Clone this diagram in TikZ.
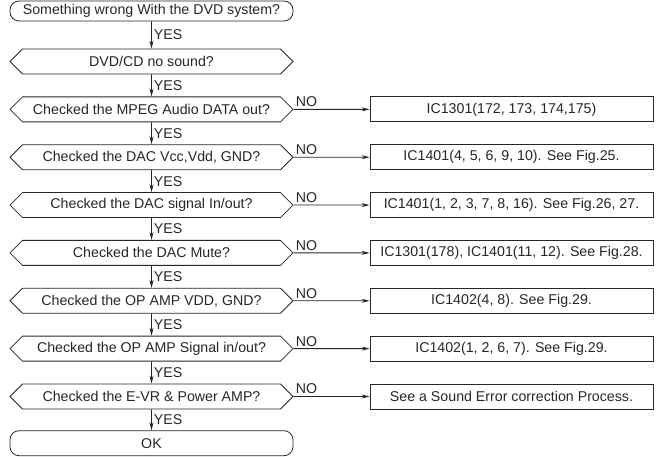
\documentclass[tikz,border=0pt]{standalone}
\usepackage{fontspec}
\setmainfont{Liberation Sans}
\usetikzlibrary{arrows.meta,shapes.symbols}

\begin{document}
\begin{tikzpicture}[x=1pt,y=1pt,>={Stealth[length=8pt,width=4pt]},
    font=\fontsize{14.2}{16}\selectfont,color=black!85,line width=0.8pt,
    terminal/.style={draw,rounded corners=9pt,minimum width=283pt,minimum height=25pt,inner sep=0pt},
    decision/.style={draw,signal,signal to=west and east,signal pointer angle=90,
      minimum width=283pt,minimum height=25pt,inner sep=0pt},
    result/.style={draw,minimum width=283pt,minimum height=25pt,inner sep=0pt},
    yes/.style={anchor=west,inner sep=2pt},
    no/.style={anchor=south west,inner sep=2pt}]
  \useasboundingbox (0,0) rectangle (659,-457);
  % main column
  \node[terminal,minimum height=20pt] (start) at (151.5,-11) {Something wrong With the DVD system?};
  \node[decision] (d1) at (151.5,-61.5) {DVD/CD no sound?};
  \node[decision] (d2) at (151.5,-109.4) {Checked the MPEG Audio DATA out?};
  \node[decision] (d3) at (151.5,-157.2) {Checked the DAC Vcc,Vdd, GND?};
  \node[decision] (d4) at (151.5,-205.1) {Checked the DAC signal In/out?};
  \node[decision] (d5) at (151.5,-252.9) {Checked the DAC Mute?};
  \node[decision] (d6) at (151.5,-300.8) {Checked the OP AMP VDD, GND?};
  \node[decision] (d7) at (151.5,-348.6) {Checked the OP AMP Signal in/out?};
  \node[decision] (d8) at (151.5,-396.5) {Checked the E-VR \& Power AMP?};
  \node[terminal] (ok) at (151.5,-443.2) {OK};
  % right column
  \node[result] (r2) at (511.5,-109.4) {IC1301(172, 173, 174,175)};
  \node[result] (r3) at (511.5,-157.2) {IC1401(4, 5, 6, 9, 10). See Fig.25.};
  \node[result] (r4) at (511.5,-205.1) {IC1401(1, 2, 3, 7, 8, 16). See Fig.26, 27.};
  \node[result] (r5) at (511.5,-252.9) {IC1301(178), IC1401(11, 12). See Fig.28.};
  \node[result] (r6) at (511.5,-300.8) {IC1402(4, 8). See Fig.29.};
  \node[result] (r7) at (511.5,-348.6) {IC1402(1, 2, 6, 7). See Fig.29.};
  \node[result] (r8) at (511.5,-396.5) {See a Sound Error correction Process.};
  % YES arrows
  \draw[->] (start) -- node[yes] {YES} (d1);
  \draw[->] (d1) -- node[yes] {YES} (d2);
  \draw[->] (d2) -- node[yes] {YES} (d3);
  \draw[->] (d3) -- node[yes] {YES} (d4);
  \draw[->] (d4) -- node[yes] {YES} (d5);
  \draw[->] (d5) -- node[yes] {YES} (d6);
  \draw[->] (d6) -- node[yes] {YES} (d7);
  \draw[->] (d7) -- node[yes] {YES} (d8);
  \draw[->] (d8) -- node[yes] {YES} (ok);
  % NO arrows
  \foreach \i in {2,...,8}
    \draw[->] (d\i) -- node[no,pos=0] {NO} (r\i);
\end{tikzpicture}
\end{document}
